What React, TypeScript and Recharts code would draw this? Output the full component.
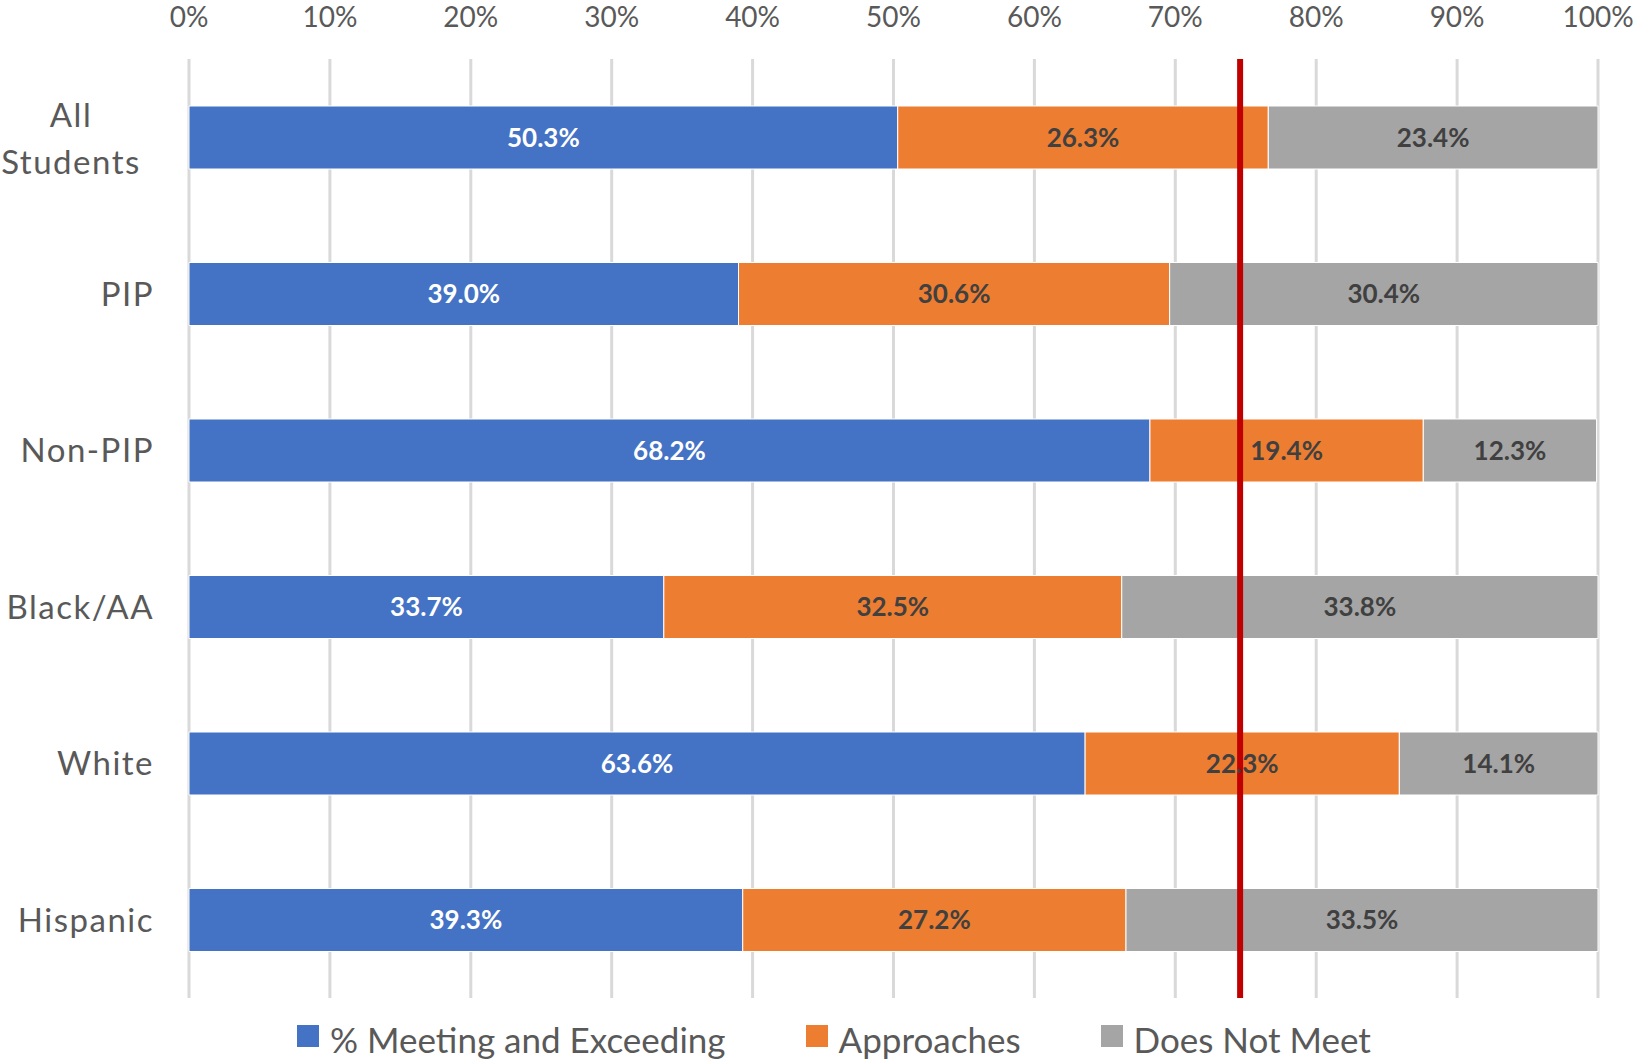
import { BarChart, Bar, XAxis, YAxis, CartesianGrid, Legend, LabelList, ReferenceLine } from 'recharts'

const categories = ['All Students', 'PIP', 'Non-PIP', 'Black/AA', 'White', 'Hispanic']
const meeting = [50.3, 39.0, 68.2, 33.7, 63.6, 39.3]
const approaches = [26.3, 30.6, 19.4, 32.5, 22.3, 27.2]
const doesNotMeet = [23.4, 30.4, 12.3, 33.8, 14.1, 33.5]
const xTicks = [0, 10, 20, 30, 40, 50, 60, 70, 80, 90, 100]
const targetLine = 74.6

const seriesInfo = [
  { key: 'meeting', name: '% Meeting and Exceeding', color: '#4472C4', labelColor: '#FFFFFF' },
  { key: 'approaches', name: 'Approaches', color: '#ED7D31', labelColor: '#404040' },
  { key: 'doesNotMeet', name: 'Does Not Meet', color: '#A5A5A5', labelColor: '#404040' },
]

const FONT = 'Lato, "Open Sans", sans-serif'

const chartData = categories.map((name, i) => ({
  name,
  meeting: meeting[i],
  approaches: approaches[i],
  doesNotMeet: doesNotMeet[i],
}))

// category labels: Excel wraps "All Students" onto two centred lines
function CategoryTick(props: any) {
  const { x, y, payload } = props
  const label: string = payload.value
  if (label === 'All Students') {
    const words = label.split(' ')
    return (
      <text x={x - 110} y={y} textAnchor="middle" fill="#595959" fontSize={33} fontFamily={FONT} letterSpacing={1.5}>
        {words.map((w, i) => (
          <tspan key={i} x={x - 110} dy={i === 0 ? -10 : 47}>{w}</tspan>
        ))}
      </text>
    )
  }
  return (
    <text x={x - 27} y={y} dy={12} textAnchor="end" fill="#595959" fontSize={33} fontFamily={FONT} letterSpacing={1.5}>
      {label}
    </text>
  )
}

function LegendContent() {
  return (
    <div style={{ display: 'flex', justifyContent: 'center', gap: 80, paddingLeft: 70, fontFamily: FONT, fontSize: 35, color: '#595959' }}>
      {seriesInfo.map((s) => (
        <div key={s.key} style={{ display: 'flex', alignItems: 'center', gap: 11 }}>
          <span style={{ width: 22, height: 22, background: s.color, display: 'inline-block', marginTop: -6 }} />
          <span>{s.name}</span>
        </div>
      ))}
    </div>
  )
}

export default function App() {
  return (
    <div style={{ width: 1635, height: 1060, background: '#fff' }}>
      <style>{'body { margin: 0; }'}</style>
      <BarChart
        width={1635}
        height={1060}
        data={chartData}
        layout="vertical"
        margin={{ top: 19, right: 37, bottom: 20, left: 0 }}
        barSize={63}
      >
        <CartesianGrid horizontal={false} stroke="#D9D9D9" strokeWidth={3} />
        <XAxis
          type="number"
          orientation="top"
          domain={[0, 100]}
          ticks={xTicks}
          tickFormatter={(v) => `${v}%`}
          axisLine={false}
          tickLine={false}
          tickSize={0}
          tickMargin={32}
          height={40}
          tick={{ fill: '#595959', fontSize: 28, fontFamily: FONT }}
          interval={0}
        />
        <YAxis
          type="category"
          dataKey="name"
          width={189}
          axisLine={false}
          tickLine={false}
          tick={<CategoryTick />}
          interval={0}
        />
        {seriesInfo.map((s) => (
          <Bar key={s.key} dataKey={s.key} name={s.name} stackId="a" fill={s.color} stroke="#FFFFFF" strokeWidth={1} isAnimationActive={false}>
            <LabelList
              dataKey={s.key}
              position="center"
              formatter={(v: any) => `${Number(v).toFixed(1)}%`}
              fill={s.labelColor}
              fontSize={26}
              fontWeight="bold"
              fontFamily={FONT}
            />
          </Bar>
        ))}
        <ReferenceLine x={targetLine} stroke="#C00000" strokeWidth={6} />
        <Legend verticalAlign="bottom" content={<LegendContent />} wrapperStyle={{ bottom: 0 }} />
      </BarChart>
    </div>
  )
}
